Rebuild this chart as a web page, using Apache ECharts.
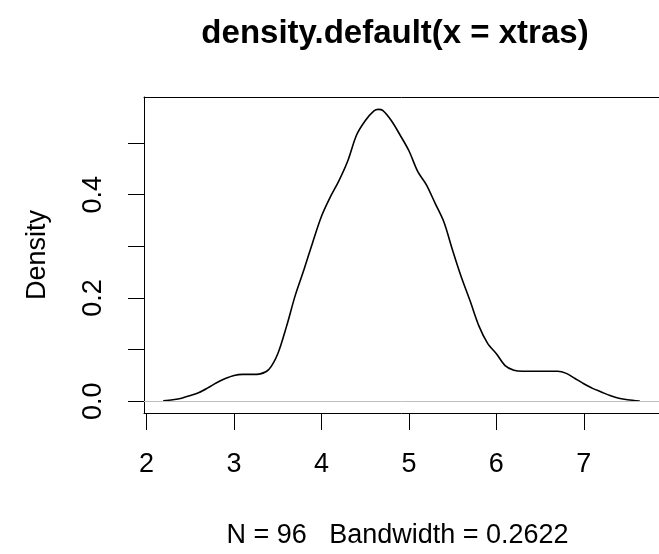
<!DOCTYPE html>
<html>
<head>
<meta charset="utf-8">
<script src="https://cdn.jsdelivr.net/npm/echarts@6/dist/echarts.min.js"></script>
<style>
html,body{margin:0;padding:0;background:#fff;}
#chart{width:659px;height:554px;}
</style>
</head>
<body>
<div id="chart"></div>
<script>
const xs = [2.19, 2.3, 2.4, 2.5, 2.6, 2.7, 2.8, 2.9, 3.0, 3.1, 3.2, 3.3, 3.4, 3.5, 3.6, 3.7, 3.8, 3.9, 4.0, 4.1, 4.2, 4.3, 4.4, 4.5, 4.6, 4.65, 4.7, 4.8, 4.9, 5.0, 5.1, 5.2, 5.3, 5.4, 5.5, 5.6, 5.7, 5.8, 5.9, 6.0, 6.1, 6.2, 6.3, 6.4, 6.5, 6.6, 6.7, 6.8, 6.9, 7.0, 7.1, 7.2, 7.3, 7.4, 7.5, 7.64];
const densities = [0.0008, 0.003, 0.006, 0.011, 0.017, 0.026, 0.036, 0.044, 0.050, 0.052, 0.052, 0.053, 0.062, 0.092, 0.145, 0.205, 0.255, 0.308, 0.358, 0.395, 0.427, 0.465, 0.515, 0.543, 0.562, 0.565, 0.563, 0.543, 0.515, 0.485, 0.445, 0.419, 0.383, 0.347, 0.292, 0.240, 0.194, 0.146, 0.112, 0.092, 0.069, 0.060, 0.058, 0.058, 0.058, 0.058, 0.058, 0.054, 0.044, 0.034, 0.025, 0.018, 0.011, 0.006, 0.003, 0.0006];
const xTicks = [2, 3, 4, 5, 6, 7];
const yTicks = [0, 0.1, 0.2, 0.3, 0.4, 0.5];
const yLabels = [0, 0.2, 0.4];
const titleText = 'density.default(x = xtras)';
const subText = 'N = 96   Bandwidth = 0.2622';
const yName = 'Density';

const FONT = '"Liberation Sans", Arial, sans-serif';
const chart = echarts.init(document.getElementById('chart'), null, {renderer: 'canvas'});
const pts = xs.map((x, i) => [x, densities[i]]);
chart.setOption({
  animation: false,
  backgroundColor: '#fff',
  title: {
    text: titleText,
    left: 390, top: 12, textAlign: 'center',
    textStyle: {fontFamily: FONT, fontWeight: 'bold', fontSize: 33, color: '#000'}
  },
  grid: {left: 144, top: 97, width: 516, height: 317, containLabel: false},
  xAxis: [{
    type: 'value', min: 1.97, max: 7.86, position: 'bottom',
    name: subText, nameLocation: 'middle', nameGap: 109,
    nameTextStyle: {fontFamily: FONT, fontSize: 27, color: '#000', padding: [0, 8, 0, 0]},
    axisLine: {show: true, onZero: false, lineStyle: {color: '#000', width: 1}},
    axisTick: {show: true, length: 17, inside: false, customValues: xTicks, lineStyle: {color: '#000', width: 1}},
    axisLabel: {show: true, customValues: xTicks, margin: 38, fontFamily: FONT, fontSize: 27, color: '#000'},
    splitLine: {show: false}
  }, {
    type: 'value', min: 1.97, max: 7.86, position: 'top',
    axisLine: {show: true, onZero: false, lineStyle: {color: '#000', width: 1}},
    axisTick: {show: false}, axisLabel: {show: false}, splitLine: {show: false}
  }],
  yAxis: {
    type: 'value', min: -0.0227, max: 0.589,
    name: yName, nameLocation: 'middle', nameGap: 93,
    nameTextStyle: {fontFamily: FONT, fontSize: 27, color: '#000'},
    axisLine: {show: true, onZero: false, lineStyle: {color: '#000', width: 1}},
    axisTick: {show: true, length: 16, inside: false, customValues: yTicks, lineStyle: {color: '#000', width: 1}},
    axisLabel: {show: true, customValues: yLabels, rotate: 90, margin: 37, fontFamily: FONT, fontSize: 27, color: '#000',
      formatter: v => v.toFixed(1)},
    splitLine: {show: false}
  },
  series: [{
    type: 'line', data: pts, showSymbol: false, smooth: 0.3,
    lineStyle: {color: '#000', width: 1.6},
    markLine: {
      silent: true, symbol: ['none', 'none'], label: {show: false},
      lineStyle: {color: '#bebebe', type: 'solid', width: 1},
      data: [{yAxis: 0}]
    },
    z: 3
  }]
});
</script>
</body>
</html>
